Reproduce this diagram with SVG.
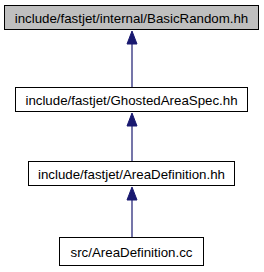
<svg xmlns="http://www.w3.org/2000/svg" width="264" height="272" viewBox="0 0 264 272">
<style>
.box{fill:#ffffff;stroke:#000000;stroke-width:1}
.cur{fill:#bfbfbf}
.lbl{font-family:"Liberation Sans",Arial,Helvetica,sans-serif;font-size:13.3px;fill:#000000;text-anchor:middle}
.edge{stroke:#191970;stroke-width:1.2;fill:none}
.head{fill:#191970;stroke:#191970;stroke-width:1}
</style>
<rect width="264" height="272" fill="#ffffff"/>
<g id="edges">
<line class="edge" x1="132" y1="87" x2="132" y2="42"/>
<polygon class="head" points="132,31 127,44 137,44"/>
<line class="edge" x1="132" y1="161" x2="132" y2="124"/>
<polygon class="head" points="132,113 127,126 137,126"/>
<line class="edge" x1="132" y1="237" x2="132" y2="198"/>
<polygon class="head" points="132,187 127,200 137,200"/>
</g>
<g id="node1">
<rect class="box cur" x="4.5" y="5.5" width="254" height="24"/>
<text class="lbl" x="131.5" y="22.5">include/fastjet/internal/BasicRandom.hh</text>
</g>
<g id="node2">
<rect class="box" x="15.5" y="87.5" width="232" height="24"/>
<text class="lbl" x="131.5" y="104.5">include/fastjet/GhostedAreaSpec.hh</text>
</g>
<g id="node3">
<rect class="box" x="28.5" y="161.5" width="206" height="24"/>
<text class="lbl" x="131.5" y="178.5">include/fastjet/AreaDefinition.hh</text>
</g>
<g id="node4">
<rect class="box" x="59.5" y="237.5" width="144" height="28"/>
<text class="lbl" x="131.5" y="256.5">src/AreaDefinition.cc</text>
</g>
</svg>
